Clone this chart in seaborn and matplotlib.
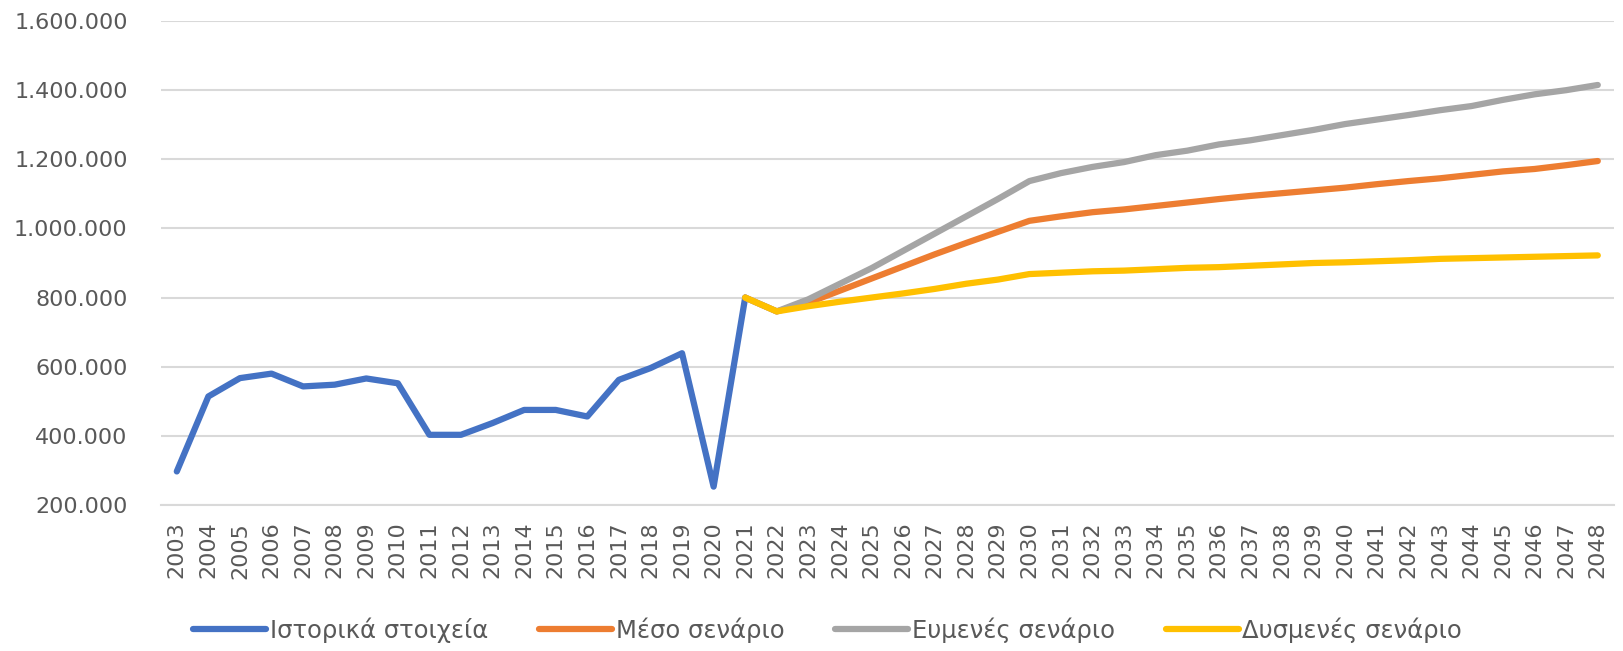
import numpy as np
import pandas as pd
import matplotlib
matplotlib.use("Agg")
import matplotlib.pyplot as plt
import seaborn as sns
from matplotlib.ticker import FuncFormatter

years = list(range(2003, 2049))

hist_years = list(range(2003, 2022))
hist_values = [297000, 514000, 567000, 580000, 543000, 548000, 566000, 552000,
               403000, 403000, 437000, 475000, 475000, 456000, 562000, 596000,
               639000, 253000, 800000]

scen_years = list(range(2021, 2049))
mid_values = [800000, 760000, 785000, 820000, 855000, 890000, 925000, 958000, 990000, 1022000,
              1035000, 1047000, 1055000, 1065000, 1075000, 1085000, 1094000, 1102000,
              1110000, 1118000, 1128000, 1137000, 1145000, 1155000, 1165000, 1172000,
              1183000, 1195000]
fav_values = [800000, 760000, 795000, 840000, 885000, 935000, 985000, 1035000, 1085000, 1137000,
              1160000, 1178000, 1192000, 1212000, 1225000, 1243000, 1255000, 1270000,
              1285000, 1302000, 1315000, 1328000, 1342000, 1354000, 1372000, 1388000,
              1400000, 1415000]
unf_values = [800000, 760000, 775000, 788000, 800000, 812000, 825000, 840000, 852000, 868000,
              872000, 876000, 878000, 882000, 886000, 888000, 892000, 896000,
              900000, 902000, 905000, 908000, 912000, 914000, 916000, 918000,
              920000, 922000]

series_names = ["Ιστορικά στοιχεία", "Μέσο σενάριο", "Ευμενές σενάριο", "Δυσμενές σενάριο"]
series_colors = ["#4472C4", "#ED7D31", "#A5A5A5", "#FFC000"]
y_ticks = [200000, 400000, 600000, 800000, 1000000, 1200000, 1400000, 1600000]

frames = []
for name, yrs, vals in zip(series_names,
                           [hist_years, scen_years, scen_years, scen_years],
                           [hist_values, mid_values, fav_values, unf_values]):
    frames.append(pd.DataFrame({"pos": [years.index(y) for y in yrs],
                                "value": vals, "series": name}))
df = pd.concat(frames, ignore_index=True)

sns.set_theme(style="white")
plt.rcParams["font.family"] = ["DejaVu Sans"]

fig = plt.figure(figsize=(16.23, 6.51), dpi=100)
ax = fig.add_axes([0.0992, 0.2243, 0.8950, 0.7434])

sns.lineplot(data=df, x="pos", y="value", hue="series", hue_order=series_names,
             palette=series_colors, linewidth=4.5, ax=ax, sort=False,
             solid_capstyle="round", solid_joinstyle="round", legend=True)

ax.set_xlim(-0.5, len(years) - 0.5)
ax.set_ylim(200000, 1600000)
ax.set_xticks(range(len(years)))
ax.set_xticklabels([str(y) for y in years], rotation=90)
ax.set_yticks(y_ticks)
ax.yaxis.set_major_formatter(FuncFormatter(lambda v, p: f"{int(v):,}".replace(",", ".")))
ax.grid(axis="y", color="#D9D9D9", linewidth=1.5)
ax.set_axisbelow(True)
for s in ["top", "right", "left"]:
    ax.spines[s].set_visible(False)
ax.spines["bottom"].set_color("#D9D9D9")
ax.spines["bottom"].set_linewidth(1.5)
ax.tick_params(axis="x", length=0, pad=12, labelsize=16, labelcolor="#595959")
ax.tick_params(axis="y", length=0, pad=24, labelsize=16, labelcolor="#595959")
ax.set_xlabel("")
ax.set_ylabel("")

handles, labels = ax.get_legend_handles_labels()
ax.legend_.remove()
fig.legend(handles, labels, loc="center", bbox_to_anchor=(0.51, 0.032), ncol=4,
           frameon=False, fontsize=17.5, handlelength=3.0, handletextpad=0.15,
           columnspacing=2.1, labelcolor="#595959")

fig.savefig("out.png", dpi=100)
